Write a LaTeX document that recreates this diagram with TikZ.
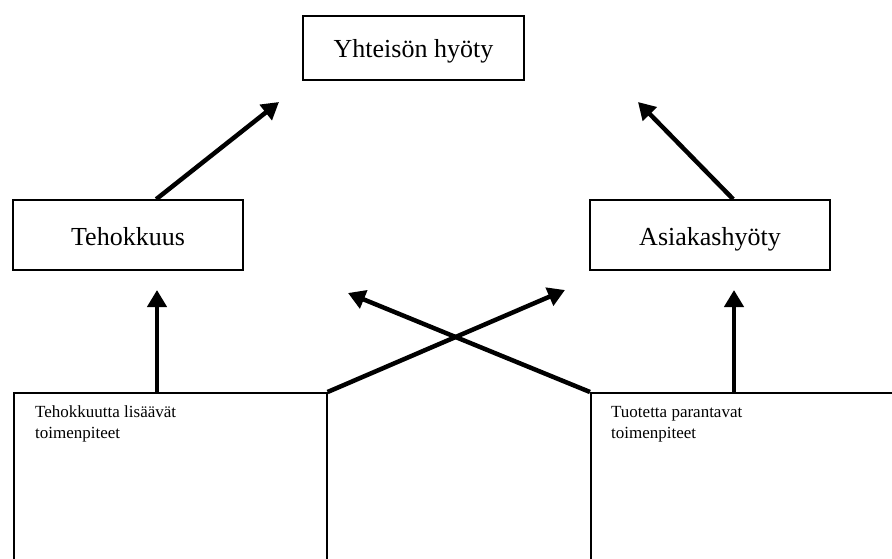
\documentclass[tikz,border=0pt]{standalone}
\usepackage{fontspec}
\setmainfont{Liberation Serif}
\usetikzlibrary{arrows.meta,calc}
\begin{document}
\begin{tikzpicture}[x=1pt,y=-1pt,
  label box/.style={draw, line width=1.6pt, rectangle, inner sep=0pt,
    text height=24pt, text depth=4pt,
    font=\fontsize{26}{30}\selectfont},
  task box/.style={draw, line width=1.6pt, rectangle, inner sep=0pt, anchor=north west},
  note/.style={anchor=north west, align=left, inner sep=0pt,
    font=\fontsize{17}{21}\selectfont},
  link/.style={line width=4.5pt, -{Triangle[length=17pt,width=19pt]}}]
\useasboundingbox (0,0) rectangle (892,559);
\fill[white] (0,0) rectangle (892,559);
\begin{scope}
  \clip (0,0) rectangle (892,559);
  % goal at the top
  \node[label box, minimum width=221pt, minimum height=64pt] (goal) at (413.5,48) {Yhteisön hyöty};
  % the two middle levels
  \node[label box, minimum width=230pt, minimum height=70pt] (teh) at (128,235) {Tehokkuus};
  \node[label box, minimum width=240pt, minimum height=70pt] (asi) at (710,235) {Asiakashyöty};
  % the two groups of measures, running off the page
  \node[task box, minimum width=313pt, minimum height=220pt] (lbox) at (13,392) {};
  \node[task box, minimum width=330pt, minimum height=220pt] (rbox) at (590,392) {};
  \node[note] (lnote) at ($(lbox.north west)+(22,14)$) {Tehokkuutta lisäävät\\toimenpiteet};
  \node[note] (rnote) at ($(rbox.north west)+(21,14)$) {Tuotetta parantavat\\toimenpiteet};
\end{scope}
% free ends of the arrows
\coordinate (tipTeh) at (157,290);
\coordinate (tipAsi) at (734,290);
\coordinate (tipGoalL) at (279,102);
\coordinate (tipGoalR) at (638,102);
\coordinate (tipCrossR) at (565,290);
\coordinate (tipCrossL) at (348,293);
% connectors
\draw[link] ([xshift=144pt]lbox.north west) -- (tipTeh);
\draw[link] ([xshift=144pt]rbox.north west) -- (tipAsi);
\draw[link] ([xshift=144pt]teh.north west) -- (tipGoalL);
\draw[link] ([xshift=144pt]asi.north west) -- (tipGoalR);
\draw[link] (lbox.north east) -- (tipCrossR);
\draw[link] (rbox.north west) -- (tipCrossL);
\end{tikzpicture}
\end{document}
